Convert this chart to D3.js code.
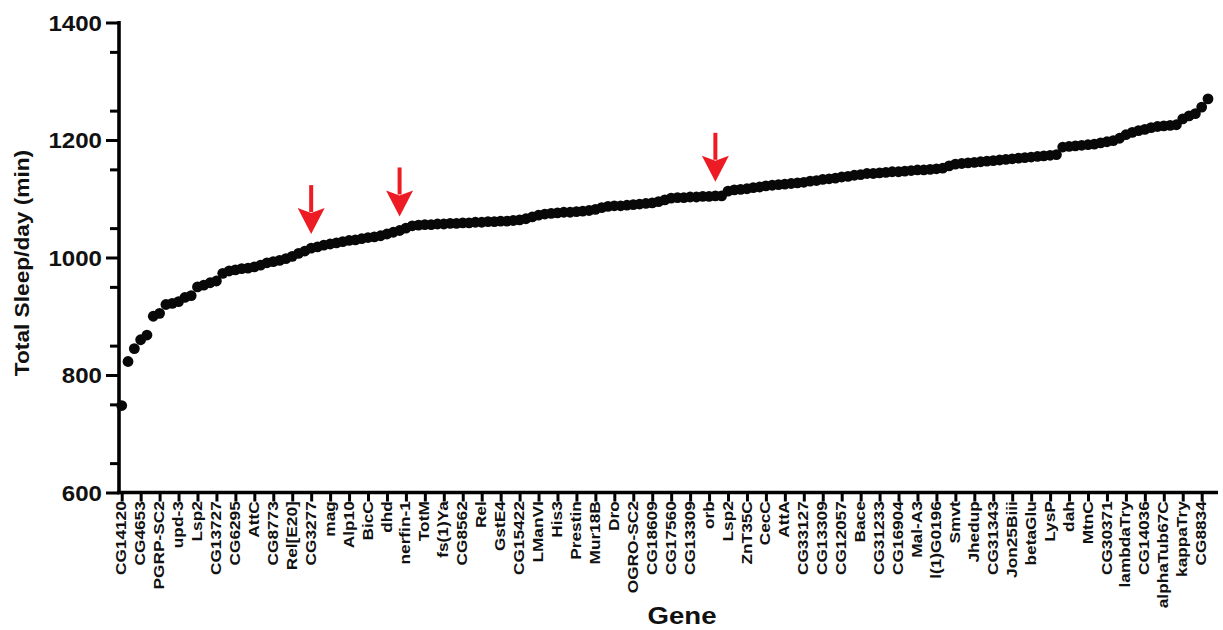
<!DOCTYPE html>
<html>
<head>
<meta charset="utf-8">
<script src="https://cdn.jsdelivr.net/npm/d3@7"></script>
<style>
  body { margin: 0; background: #fff; }
  text { font-family: "Liberation Sans", Arial, sans-serif; font-weight: bold; fill: #111; }
</style>
</head>
<body>
<div id="chart"></div>
<script>
// total sleep per gene knockdown, sorted low -> high
const sleepMin = [
  748, 823, 845, 860, 868, 900, 905, 920, 922, 925,
  932, 935, 950, 953, 957, 960, 973, 977, 979, 981,
  982, 984, 987, 991, 993, 995, 998, 1002, 1007, 1011,
  1016, 1018, 1021, 1023, 1025, 1027, 1029, 1030, 1032, 1034,
  1035, 1037, 1040, 1043, 1046, 1050, 1054, 1055, 1056, 1056,
  1057, 1057, 1058, 1058, 1059, 1059, 1060, 1060, 1061, 1061,
  1062, 1062, 1063, 1064, 1066, 1069, 1072, 1074, 1075, 1076,
  1077, 1077, 1078, 1079, 1080, 1082, 1085, 1087, 1088, 1088,
  1089, 1090, 1091, 1092, 1093, 1095, 1098, 1101, 1102, 1102,
  1103, 1103, 1104, 1104, 1105, 1105, 1113, 1115, 1116, 1117,
  1119, 1120, 1122, 1123, 1124, 1125, 1126, 1127, 1128, 1130,
  1131, 1133, 1134, 1135, 1137, 1138, 1140, 1141, 1143, 1143,
  1144, 1145, 1146, 1146, 1147, 1148, 1149, 1149, 1150, 1151,
  1152, 1156, 1159, 1160, 1161, 1162, 1163, 1164, 1165, 1166,
  1167, 1168, 1169, 1170, 1171, 1172, 1173, 1174, 1175, 1188,
  1189, 1190, 1191, 1192, 1193, 1195, 1197, 1199, 1203, 1209,
  1213, 1216, 1218, 1221, 1223, 1224, 1225, 1226, 1236, 1241,
  1245, 1256, 1270
];

// only every third gene is named on the axis
const geneLabels = [
  'CG14120', 'CG4653', 'PGRP-SC2', 'upd-3', 'Lsp2', 'CG13727', 'CG6295', 'AttC',
  'CG8773', 'Rel[E20]', 'CG3277', 'mag', 'Alp10', 'BicC', 'dhd', 'nerfin-1',
  'TotM', 'fs(1)Ya', 'CG8562', 'Rel', 'GstE4', 'CG15422', 'LManVI', 'His3',
  'Prestin', 'Mur18B', 'Dro', 'OGRO-SC2', 'CG18609', 'CG17560', 'CG13309', 'orb',
  'Lsp2', 'ZnT35C', 'CecC', 'AttA', 'CG33127', 'CG13309', 'CG12057', 'Bace',
  'CG31233', 'CG16904', 'Mal-A3', 'l(1)G0196', 'Smvt', 'Jhedup', 'CG31343', 'Jon25Biii',
  'betaGlu', 'LysP', 'dah', 'MtnC', 'CG30371', 'lambdaTry', 'CG14036', 'alphaTub67C',
  'kappaTry', 'CG8834'
];
const labelStep = 3;

const yMajor = [600, 800, 1000, 1200, 1400];

// genes marked with red arrows (index into sleepMin)
const arrowIdx = [30, 44, 94];

var width = 1223,
    height = 630;

var svg = d3.select('#chart')
  .append('svg')
  .attr('width', width)
  .attr('height', height);

// scales
var x = d3.scalePoint()
  .domain(d3.range(sleepMin.length))
  .range([121.7, 1208]);

var y = d3.scaleLinear()
  .domain([600, 1400])
  .range([492.5, 22.5]);

var axisX = 119;

// y axis, minor ticks first then the labelled ones
svg.append('g')
  .attr('transform', 'translate(' + axisX + ',0)')
  .call(d3.axisLeft(y).tickValues(d3.range(650, 1400, 100)).tickSize(9).tickSizeOuter(0).tickFormat(''))
  .call(g => g.select('.domain').remove())
  .call(g => g.selectAll('line').attr('stroke', '#000').attr('stroke-width', 3));

var yAxis = svg.append('g')
  .attr('transform', 'translate(' + axisX + ',0)')
  .call(d3.axisLeft(y).tickValues(yMajor).tickSize(13).tickSizeOuter(0).tickPadding(0).tickFormat(d3.format('d')));

yAxis.select('.domain').remove();
yAxis.selectAll('line').attr('stroke', '#000').attr('stroke-width', 3);
yAxis.selectAll('text')
  .attr('x', null)
  .attr('dy', '0.36em')
  .attr('transform', 'translate(-17,0) scale(1.12,1)')
  .style('font-size', '21.5px')
  .style('font-family', '"Liberation Sans", Arial, sans-serif')
  .style('font-weight', 'bold')
  .attr('fill', '#111');

// x axis: ticks only where a gene name is shown
var tickIdx = geneLabels.map((d, i) => i * labelStep);

var xAxis = svg.append('g')
  .attr('transform', 'translate(0,' + y(600) + ')')
  .call(d3.axisBottom(x)
    .tickValues(tickIdx)
    .tickSize(9)
    .tickSizeOuter(0)
    .tickFormat(d => geneLabels[d / labelStep]));

xAxis.select('.domain').remove();
xAxis.selectAll('line').attr('stroke', '#000').attr('stroke-width', 3);
xAxis.selectAll('text')
  .attr('y', 0)
  .attr('x', -7.6)
  .attr('dy', '0.27em')
  .attr('transform', 'rotate(-90) scale(1.15,1)')
  .style('text-anchor', 'end')
  .style('font-size', '15px')
  .style('font-family', '"Liberation Sans", Arial, sans-serif')
  .style('font-weight', 'bold')
  .attr('fill', '#111');

// axis lines drawn by hand so they meet in the corner
svg.append('line')
  .attr('x1', axisX).attr('x2', axisX)
  .attr('y1', y(1400) - 1.5).attr('y2', y(600) + 1.8)
  .attr('stroke', '#000').attr('stroke-width', 3.6);

svg.append('line')
  .attr('x1', axisX - 1.8).attr('x2', 1218)
  .attr('y1', y(600)).attr('y2', y(600))
  .attr('stroke', '#000').attr('stroke-width', 3.6);

// the dots
svg.append('g')
  .selectAll('circle')
  .data(sleepMin)
  .enter()
  .append('circle')
    .attr('cx', (d, i) => x(i))
    .attr('cy', d => y(d))
    .attr('r', 5.4)
    .attr('fill', '#080808');

// red arrows above a few genes
var arrowLen = 49, headLen = 26, headHalf = 13.5;

var arrows = svg.append('g')
  .selectAll('g')
  .data(arrowIdx)
  .enter()
  .append('g')
    .attr('transform', i => 'translate(' + x(i) + ',' + (y(sleepMin[i]) - 14) + ')');

arrows.append('line')
  .attr('x1', 0).attr('x2', 0)
  .attr('y1', -arrowLen).attr('y2', -headLen + 4)
  .attr('stroke', '#ed1c24')
  .attr('stroke-width', 4);

arrows.append('path')
  .attr('d', 'M0,0 L' + (-headHalf) + ',' + (-headLen) + ' L0,' + (-headLen + 5) + ' L' + headHalf + ',' + (-headLen) + ' Z')
  .attr('fill', '#ed1c24');

// axis titles
svg.append('text')
  .attr('transform', 'translate(29,263) rotate(-90) scale(1.08,1)')
  .attr('text-anchor', 'middle')
  .style('font-size', '21px')
  .text('Total Sleep/day (min)');

svg.append('text')
  .attr('transform', 'translate(682,624) scale(1.2,1)')
  .attr('text-anchor', 'middle')
  .style('font-size', '23px')
  .text('Gene');
</script>
</body>
</html>
